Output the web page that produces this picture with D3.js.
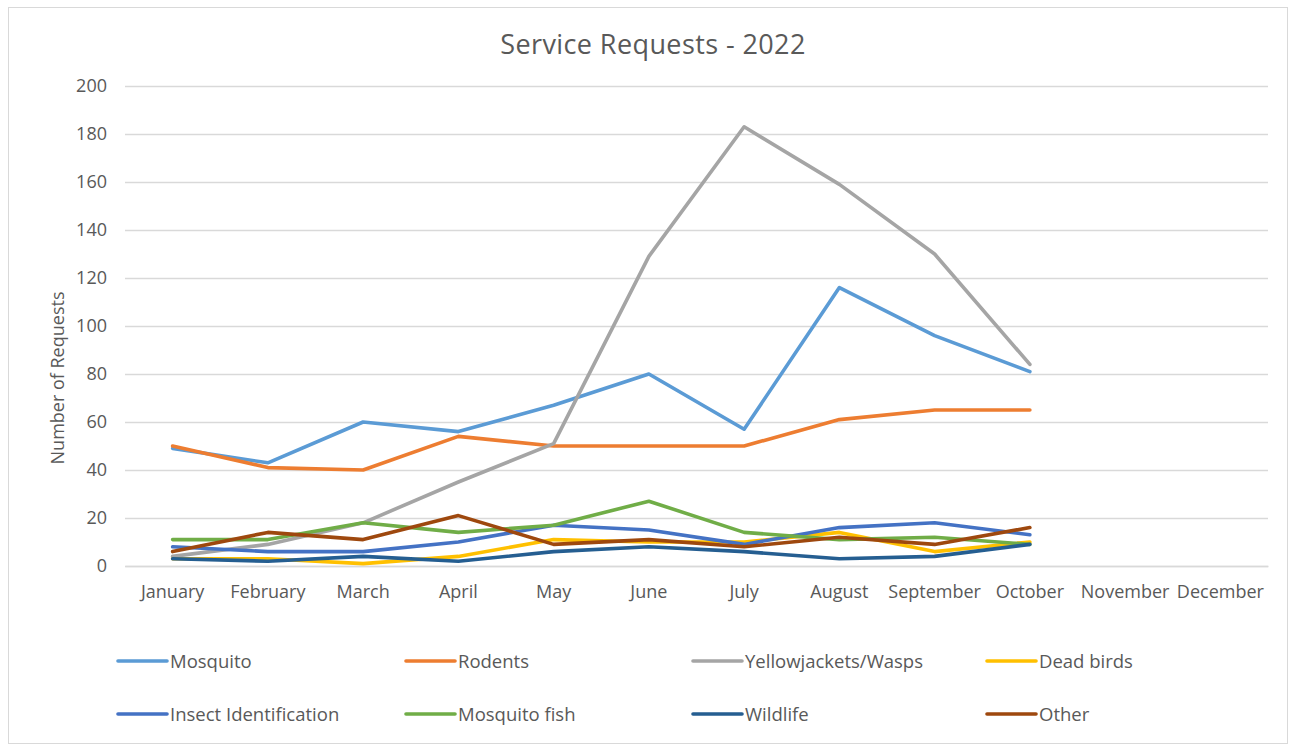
<!DOCTYPE html>
<html><head><meta charset="utf-8">
<script src="https://cdn.jsdelivr.net/npm/d3@7"></script>
<style>body{margin:0;background:#fff}svg{display:block}text{font-family:"Open Sans",sans-serif;fill:#595959}</style>
</head><body><svg id="c" width="1290" height="746"></svg>
<script>
const months = ["January","February","March","April","May","June","July","August","September","October","November","December"];
const yTicks = [0,20,40,60,80,100,120,140,160,180,200];
const seriesNames = ["Mosquito","Rodents","Yellowjackets/Wasps","Dead birds","Insect Identification","Mosquito fish","Wildlife","Other"];
const seriesColors = ["#5B9BD5","#ED7D31","#A5A5A5","#FFC000","#4472C4","#70AD47","#255E91","#9E480E"];
const mosquito = [49,43,60,56,67,80,57,116,96,81];
const rodents = [50,41,40,54,50,50,50,61,65,65];
const yellowjackets = [4,9,18,35,51,129,183,159,130,84];
const deadBirds = [3,3,1,4,11,10,10,14,6,10];
const insectId = [8,6,6,10,17,15,9,16,18,13];
const mosquitoFish = [11,11,18,14,17,27,14,11,12,9];
const wildlife = [3,2,4,2,6,8,6,3,4,9];
const other = [6,14,11,21,9,11,8,12,9,16];
const seriesValues = [mosquito,rodents,yellowjackets,deadBirds,insectId,mosquitoFish,wildlife,other];

const FONT = "'Open Sans',sans-serif";
const svg = d3.select("#c");
svg.append("rect").attr("x",8.5).attr("y",7.5).attr("width",1279).attr("height",736)
  .attr("fill","#fff").attr("stroke","#d9d9d9").attr("stroke-width",1);

const x = d3.scaleBand().domain(months).range([125,1268]);
const y = d3.scaleLinear().domain([0,200]).range([566,86]);

svg.append("text").attr("x",653).attr("y",54).attr("text-anchor","middle")
  .style("font-size","27px").style("letter-spacing","0.4px").text("Service Requests - 2022");

// gridlines
svg.append("g").selectAll("line").data(yTicks).join("line")
  .attr("x1",125).attr("x2",1268).attr("y1",d=>Math.round(y(d))+0.5).attr("y2",d=>Math.round(y(d))+0.5)
  .attr("stroke","#d9d9d9").attr("stroke-width",1.3);

const ya = svg.append("g").attr("transform","translate(107,0)")
  .call(d3.axisLeft(y).tickValues(yTicks).tickSize(0).tickPadding(0));
ya.select(".domain").remove();
ya.selectAll("text").style("font-size","18px").attr("fill","#595959").style("font-family",FONT);

const xa = svg.append("g").attr("transform","translate(0,566)")
  .call(d3.axisBottom(x).tickSize(0).tickPadding(19));
xa.select(".domain").attr("stroke","#d9d9d9").attr("stroke-width",1.3);
xa.selectAll("text").style("font-size","18px").attr("fill","#595959").style("font-family",FONT);

svg.append("text").attr("transform","translate(64,378) rotate(-90)").attr("text-anchor","middle")
  .style("font-size","18px").text("Number of Requests");

const line = d3.line().x((d,i)=>x(months[i])+x.bandwidth()/2).y(d=>y(d));
seriesValues.forEach((vals,k)=>{
  svg.append("path").datum(vals).attr("d",line).attr("fill","none")
    .attr("stroke",seriesColors[k]).attr("stroke-width",3.6)
    .attr("stroke-linejoin","round").attr("stroke-linecap","round");
});

// legend
const legX = [118,406,693,987];
const legY = [661,714];
seriesNames.forEach((n,k)=>{
  const lx = legX[k%4], ly = legY[Math.floor(k/4)];
  svg.append("line").attr("x1",lx).attr("x2",lx+49).attr("y1",ly).attr("y2",ly)
    .attr("stroke",seriesColors[k]).attr("stroke-width",3.6).attr("stroke-linecap","round");
  svg.append("text").attr("x",lx+52).attr("y",ly+7).style("font-size","18.5px").text(n);
});
</script></body></html>
